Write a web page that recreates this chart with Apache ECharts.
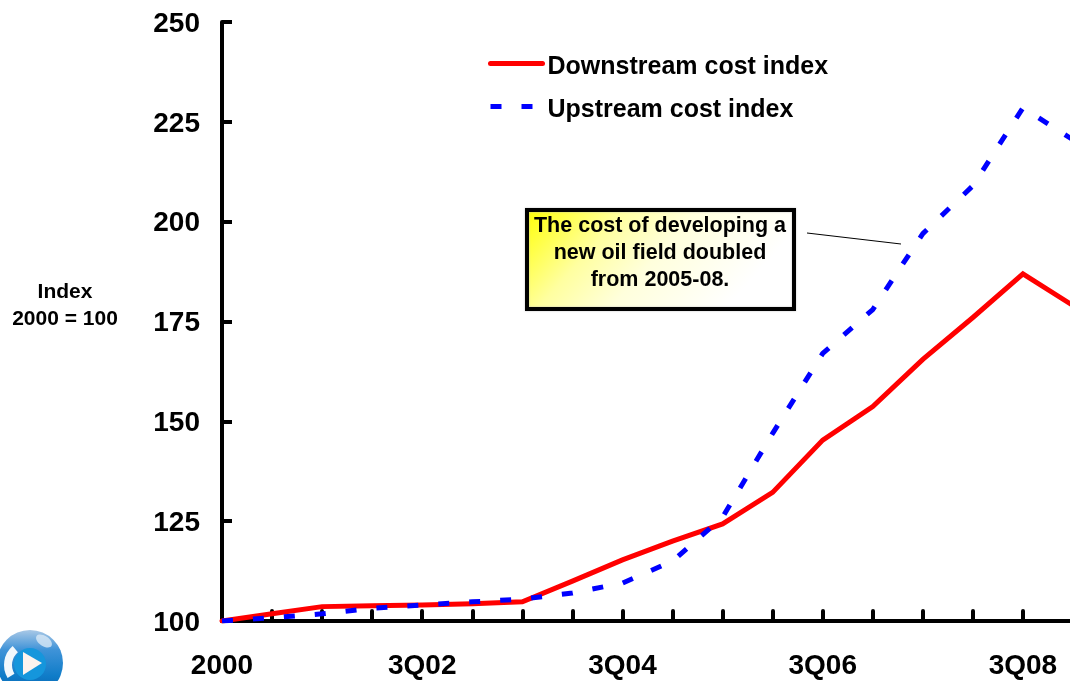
<!DOCTYPE html>
<html><head><meta charset="utf-8">
<style>html,body{margin:0;padding:0;background:#fff;overflow:hidden}#c{width:1070px;height:681px}</style>
<script src="https://cdn.jsdelivr.net/npm/echarts@6/dist/echarts.min.js"></script>
</head><body><div id="c"></div>
<script>
const categories = ['2000','1Q01','3Q01','1Q02','3Q02','1Q03','3Q03','1Q04','3Q04','1Q05','3Q05','1Q06','3Q06','1Q07','3Q07','1Q08','3Q08','1Q09'];
const downstream = [100,101.8,103.6,103.8,104,104.3,104.8,110,115.3,120,124.3,132.2,145.3,153.7,165.5,176,186.9,179];
const upstream = [100,100.8,101.8,103.2,104,104.8,105.5,107,109.5,115,126,147,167,178,197,209,228.5,220.5];
const yTicks = {min:100,max:250,interval:25};
const font = 'Arial, "Liberation Sans", sans-serif';
const chart = echarts.init(document.getElementById('c'),null,{renderer:'canvas'});
chart.setOption({
  animation:false,
  backgroundColor:'#fff',
  textStyle:{fontFamily:font},
  grid:{left:222,top:22,width:851,height:599,containLabel:false,outerBoundsMode:'none'},
  legend:{
    orient:'vertical',left:483,top:50,itemWidth:52,itemHeight:14,itemGap:18,
    formatter:'{a|{name}}',
    textStyle:{rich:{a:{fontFamily:font,fontWeight:'bold',fontSize:25,color:'#000',padding:[8,0,0,0]}}},
    data:[
      {name:'Downstream cost index',itemStyle:{opacity:0},lineStyle:{color:'#ff0000',width:5,cap:'round'}},
      {name:'Upstream cost index',itemStyle:{opacity:0},lineStyle:{color:'#0000ff',width:5,type:[11,20],cap:'butt'}}
    ]
  },
  xAxis:{
    type:'category',boundaryGap:false,data:categories,
    axisLine:{onZero:false,lineStyle:{color:'#000',width:4}},
    axisTick:{show:true,inside:true,length:10,interval:0,lineStyle:{color:'#000',width:4,cap:'round'}},
    axisLabel:{interval:3,margin:31,color:'#000',fontFamily:font,fontWeight:'bold',fontSize:28,hideOverlap:false,showMinLabel:true},
    splitLine:{show:false}
  },
  yAxis:{
    type:'value',min:yTicks.min,max:yTicks.max,interval:yTicks.interval,
    axisLine:{show:true,lineStyle:{color:'#000',width:4}},
    axisTick:{show:true,inside:true,length:10,lineStyle:{color:'#000',width:4}},
    axisLabel:{margin:22,color:'#000',fontFamily:font,fontWeight:'bold',fontSize:28,verticalAlign:'top',lineHeight:4},
    splitLine:{show:false}
  },
  series:[
    {name:'Downstream cost index',type:'line',data:downstream,symbol:'none',z:3,
     lineStyle:{color:'#ff0000',width:5,join:'miter',cap:'round'},itemStyle:{color:'#ff0000'}},
    {name:'Upstream cost index',type:'line',data:upstream,symbol:'none',z:4,
     lineStyle:{color:'#0000ff',width:5,type:[11,20],cap:'butt'},itemStyle:{color:'#0000ff'}}
  ],
  graphic:[
    {type:'text',x:65,y:279,z:10,style:{text:'Index\n2000 = 100',align:'center',font:'bold 21px '+font,fill:'#000',lineHeight:27}},
    {type:'rect',shape:{x:527,y:210,width:267,height:99},z:10,
     style:{fill:new echarts.graphic.LinearGradient(0,0,0.6,1.4,[{offset:0,color:'#ffff00'},{offset:0.35,color:'#ffffa0'},{offset:0.6,color:'#ffffdc'},{offset:1,color:'#ffffff'}]),stroke:'#000',lineWidth:4,shadowColor:'#bbb',shadowBlur:2}},
    {type:'text',z:11,x:660,y:213,style:{text:'The cost of developing a\nnew oil field doubled\nfrom 2005-08.',align:'center',font:'bold 21.5px '+font,fill:'#000',lineHeight:27}},
    {type:'line',z:10,shape:{x1:807,y1:233,x2:901,y2:244},style:{stroke:'#000',lineWidth:1}},
    {type:'circle',z:10,shape:{cx:30,cy:663,r:33},
     style:{fill:new echarts.graphic.LinearGradient(0,0,0,1,[{offset:0,color:'#a9c8e6'},{offset:0.3,color:'#3f93d8'},{offset:0.7,color:'#0f7cc8'},{offset:1,color:'#0b5ea8'}])}},
    {type:'ellipse',z:11,shape:{cx:44,cy:641,rx:9,ry:5},rotation:-0.6,originX:44,originY:641,style:{fill:'#d8e8f6',opacity:0.8}},
    {type:'arc',z:11,shape:{cx:29,cy:665,r:21,startAngle:2.6,endAngle:4.0},style:{stroke:'#f2f8fc',lineWidth:8,fill:'none'}},
    {type:'circle',z:11,shape:{cx:30,cy:664,r:16},style:{fill:'#1596dc'}},
    {type:'polygon',z:12,shape:{points:[[23,652],[42,663],[23,675]]},style:{fill:'#fdf3ee'}}
  ]
});
</script></body></html>
